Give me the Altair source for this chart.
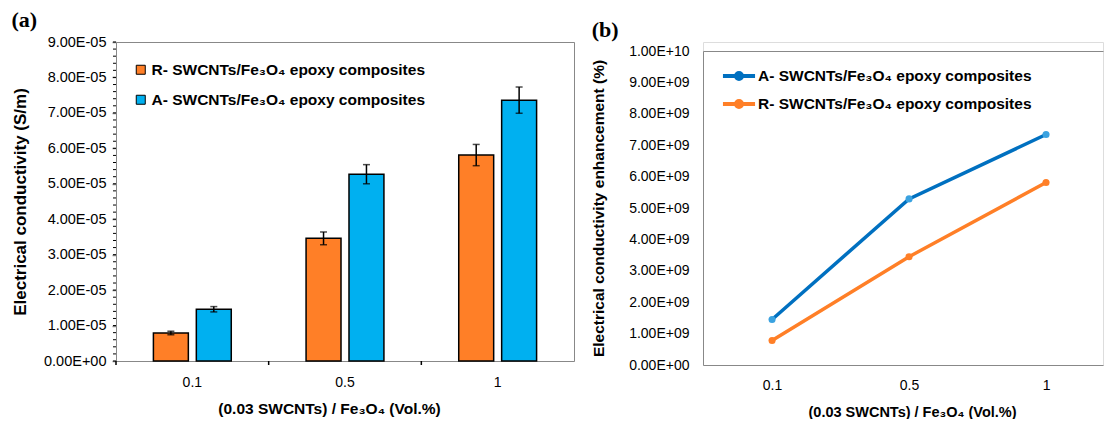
import altair as alt
import pandas as pd

# ---------------- data ----------------
concentrations = ["0.1", "0.5", "1"]
r_name = "R- SWCNTs/Fe₃O₄ epoxy composites"
a_name = "A- SWCNTs/Fe₃O₄ epoxy composites"

r_cond = [0.79e-5, 3.46e-5, 5.81e-5]
a_cond = [1.46e-5, 5.27e-5, 7.36e-5]
r_err = [0.05e-5, 0.18e-5, 0.30e-5]
a_err = [0.075e-5, 0.27e-5, 0.37e-5]

r_enh = [0.78e9, 3.45e9, 5.81e9]
a_enh = [1.45e9, 5.29e9, 7.34e9]

cond_ticks = [i * 1e-5 for i in range(10)]
cond_minor = [i * 2e-6 for i in range(46)]
enh_ticks = [i * 1e9 for i in range(11)]

FONT = "Liberation Sans"
ORANGE = "#FF7F27"
BLUE = "#00B0F0"
LINE_BLUE = "#0070C0"
LINE_ORANGE = "#FF7F27"
DOT_BLUE = "#3AA2E0"

bars = pd.DataFrame({
    "conc": concentrations * 2,
    "series": [r_name] * 3 + [a_name] * 3,
    "value": r_cond + a_cond,
    "err": r_err + a_err,
})
bars["lo"] = bars["value"] - bars["err"]
bars["hi"] = bars["value"] + bars["err"]

minor = pd.DataFrame({"value": cond_minor})
cats = pd.DataFrame({"conc": concentrations})

lines = pd.DataFrame({
    "conc": concentrations * 2,
    "series": [a_name] * 3 + [r_name] * 3,
    "value": a_enh + r_enh,
})

# ---------------- panel (a) ----------------
W_A, H_A = 458, 319
xs_a = alt.Scale(domain=concentrations, paddingInner=0.49, paddingOuter=0.245)
xs_cells = alt.Scale(domain=concentrations, paddingInner=0, paddingOuter=0)
ys_a = alt.Scale(domain=[0, 9e-5], nice=False, zero=True)
xoff = alt.XOffset("series:N", sort=[r_name, a_name],
                   scale=alt.Scale(domain=[r_name, a_name], paddingInner=0.186, paddingOuter=0))

x_a = alt.X("conc:N", sort=concentrations, scale=xs_a,
            title="(0.03 SWCNTs) / Fe₃O₄ (Vol.%)",
            axis=alt.Axis(labelAngle=0, ticks=False, grid=False, labelPadding=14, labelFontSize=14,
                          titleFontSize=15.5, titlePadding=12, titleX=213))
y_a = alt.Y("value:Q", scale=ys_a, title="Electrical conductivity (S/m)",
            axis=alt.Axis(values=cond_ticks, tickSize=4, grid=False, labelPadding=6, labelFontSize=14.5,
                          labelExpr="datum.value == 0 ? '0.00E+00' : format(datum.value/1e-5, '.2f') + 'E-05'",
                          titleFontSize=17, titlePadding=14, tickWidth=1.5))

bar_layer = alt.Chart(bars).mark_bar(stroke="black", strokeWidth=1.5).encode(
    x=x_a, y=y_a, xOffset=xoff,
    color=alt.Color("series:N", scale=alt.Scale(domain=[r_name, a_name], range=[ORANGE, BLUE]),
                    legend=alt.Legend(orient="none", legendX=17, legendY=20, title=None,
                                      symbolType="square", symbolSize=81,
                                      symbolStrokeColor="black", symbolStrokeWidth=1,
                                      labelFont=FONT, labelFontSize=15.5, labelFontWeight="bold",
                                      labelColor="black", rowPadding=13, labelOffset=3,
                                      padding=0, labelLimit=400)),
)
err_rule = alt.Chart(bars).mark_rule(color="black", strokeWidth=1.5).encode(
    x=alt.X("conc:N", sort=concentrations, scale=xs_a, axis=None), xOffset=xoff,
    y=alt.Y("lo:Q", scale=ys_a, axis=None), y2="hi:Q")
cap_lo = alt.Chart(bars).mark_tick(color="black", size=7, thickness=1.5).encode(
    x=alt.X("conc:N", sort=concentrations, scale=xs_a, axis=None), xOffset=xoff,
    y=alt.Y("lo:Q", scale=ys_a, axis=None))
cap_hi = alt.Chart(bars).mark_tick(color="black", size=7, thickness=1.5).encode(
    x=alt.X("conc:N", sort=concentrations, scale=xs_a, axis=None), xOffset=xoff,
    y=alt.Y("hi:Q", scale=ys_a, axis=None))
# minor y ticks; its axis gives the right border of the frame
minor_ticks = alt.Chart(minor).mark_rule(color="black", strokeWidth=1).encode(
    y=alt.Y("value:Q", scale=ys_a,
            axis=alt.Axis(orient="right", labels=False, ticks=False, grid=False, title=None)),
    x=alt.value(-3), x2=alt.value(0))
# x ticks between categories; its axis gives the top border of the frame
x_ticks = alt.Chart(cats).mark_rule(color="black", strokeWidth=1.5).encode(
    x=alt.X("conc:N", sort=concentrations, scale=xs_cells, bandPosition=0,
            axis=alt.Axis(orient="top", labels=False, ticks=False, grid=False, title=None)),
    y=alt.value(H_A), y2=alt.value(H_A + 4))

panel_a = alt.layer(bar_layer, err_rule, cap_lo, cap_hi, minor_ticks, x_ticks).resolve_scale(
    x="independent"
).resolve_axis(
    x="independent", y="independent"
).properties(
    width=W_A, height=H_A,
    title=alt.TitleParams("(a)", anchor="start", frame="bounds", font="Liberation Serif",
                          fontSize=22, fontWeight="bold", color="black", offset=2),
)

# ---------------- panel (b) ----------------
W_B, H_B = 400, 323
xs_b = alt.Scale(type="point", domain=concentrations, padding=0.46, align=0.548)
ys_b = alt.Scale(domain=[0, 1e10], nice=False, range=[H_B, 9])

line_layer = alt.Chart(lines).mark_line(strokeWidth=3.5).encode(
    x=alt.X("conc:N", sort=concentrations, scale=xs_b, title="(0.03 SWCNTs) / Fe₃O₄ (Vol.%)",
            axis=alt.Axis(labelAngle=0, ticks=False, grid=False, labelPadding=13, labelFontSize=14,
                          titleFontSize=14.5, titlePadding=13, titleX=209)),
    y=alt.Y("value:Q", scale=ys_b, title="Electrical conductivity enhancement (%)",
            axis=alt.Axis(values=enh_ticks, ticks=False, grid=False, labelPadding=14, labelFontSize=14,
                          labelExpr="datum.value == 0 ? '0.00E+00' : (datum.value >= 9.99e9 ? '1.00E+10' : format(datum.value/1e9, '.2f') + 'E+09')",
                          titleFontSize=15.5, titlePadding=22)),
    stroke=alt.Stroke("series:N", scale=alt.Scale(domain=[a_name, r_name], range=[LINE_BLUE, LINE_ORANGE]),
                      legend=alt.Legend(orient="none", legendX=606, legendY=17, title=None,
                                        symbolType="M-1.07,0L1.07,0M0.2,0A0.2,0.2 0 1 1 -0.2,0A0.2,0.2 0 1 1 0.2,0",
                                        symbolSize=900, symbolStrokeWidth=4,
                                        labelFont=FONT, labelFontSize=15.5, labelFontWeight="bold",
                                        labelColor="black", rowPadding=0, labelOffset=2,
                                        padding=0, labelLimit=400)),
)
point_layer = alt.Chart(lines).mark_point(filled=True, size=50, opacity=1).encode(
    x=alt.X("conc:N", sort=concentrations, scale=xs_b,
            axis=alt.Axis(orient="top", labels=False, ticks=False, grid=False, title=None, offset=-9)),
    y=alt.Y("value:Q", scale=ys_b, axis=None),
    fill=alt.Fill("series:N", scale=alt.Scale(domain=[a_name, r_name], range=[DOT_BLUE, LINE_ORANGE]),
                  legend=None),
)

panel_b = alt.layer(line_layer, point_layer).resolve_axis(x="independent", y="independent").properties(
    width=W_B, height=H_B,
    title=alt.TitleParams("(b)", anchor="start", frame="bounds", font="Liberation Serif",
                          fontSize=22, fontWeight="bold", color="black", offset=0),
)

chart = alt.hconcat(panel_a, panel_b, spacing=16).properties(
    padding={"left": 3, "top": 0, "right": 0, "bottom": 0}
).configure_view(stroke="transparent").configure_axis(
    labelFont=FONT, labelFontWeight="bold", labelColor="black", labelOverlap=False,
    titleFont=FONT, titleFontWeight="bold", titleColor="black",
    domainColor="black", domainWidth=2, tickColor="black", grid=False,
).configure(background="white")

chart.save("out.html", embed_options={"renderer": "svg", "actions": False})
